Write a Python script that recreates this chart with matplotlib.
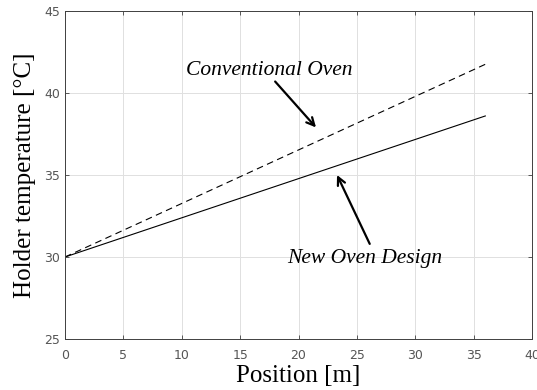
import matplotlib
matplotlib.use('Agg')
import matplotlib.pyplot as plt
import numpy as np

# data
pos = [0, 36]
t_conv = [30.0, 41.75]
t_new = [30.0, 38.6]
xticks = [0, 5, 10, 15, 20, 25, 30, 35, 40]
yticks = [25, 30, 35, 40, 45]

fig = plt.figure(figsize=(5.37, 3.9), dpi=100)
ax = fig.add_axes([65/537, 1 - 339/390, (532-65)/537, (339-11)/390])

ax.plot(pos, t_conv, color='black', lw=0.8, ls=(0, (6, 4)))
ax.plot(pos, t_new, color='black', lw=0.8)

ax.set_xlim(0, 40)
ax.set_ylim(25, 45)
ax.set_xticks(xticks)
ax.set_yticks(yticks)
ax.grid(True, color='#e0e0e0', lw=0.7)
ax.set_axisbelow(True)
ax.tick_params(direction='in', length=3, top=True, right=True, labelsize=9,
               colors='#404040', labelcolor='#555555', width=0.6)
ax.tick_params(axis='x', pad=7)
for s in ax.spines.values():
    s.set_color('#404040')
    s.set_linewidth(0.7)

ax.set_xlabel('Position [m]', fontfamily='Liberation Serif', fontsize=18, labelpad=2)
ax.set_ylabel('Holder temperature [°C]', fontfamily='Liberation Serif', fontsize=18, labelpad=6)

ital = dict(fontfamily='Liberation Serif', fontstyle='italic', fontsize=15.5,
            ha='center', va='center')
arrow = dict(arrowstyle='->', lw=1.6, color='black', shrinkA=0, shrinkB=0,
             mutation_scale=14)

ax.text(17.5, 41.4, 'Conventional Oven', **ital)
ax.annotate('', xy=(21.5, 37.9), xytext=(18.0, 40.7), arrowprops=arrow)
ax.text(25.7, 29.9, 'New Oven Design', **ital)
ax.annotate('', xy=(23.3, 35.0), xytext=(26.1, 30.8), arrowprops=arrow)

fig.savefig('out.png', dpi=100)
